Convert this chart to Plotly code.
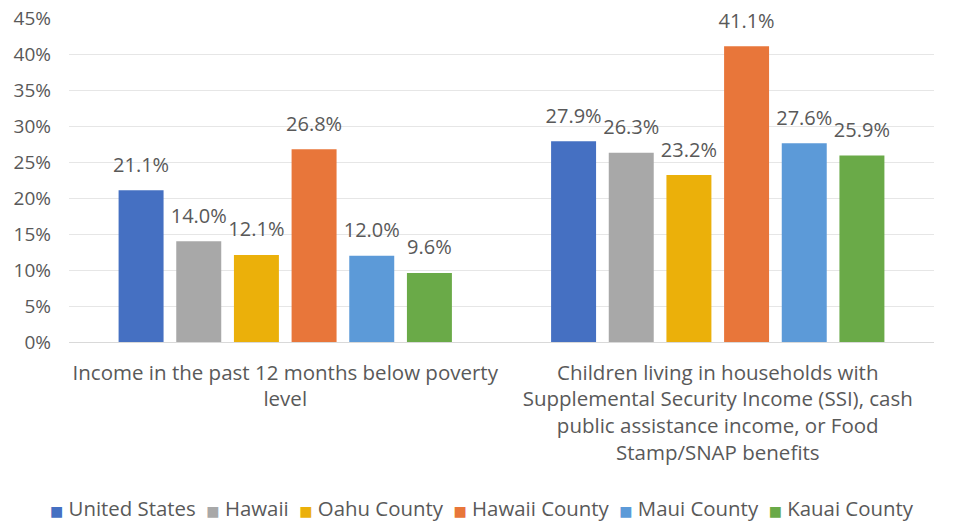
import plotly.graph_objects as go

categories = [
    "Income in the past 12 months below poverty<br>level",
    "Children living in households with<br>Supplemental Security Income (SSI), cash<br>public assistance income, or Food<br>Stamp/SNAP benefits",
]
series_names = ["United States", "Hawaii", "Oahu County", "Hawaii County", "Maui County", "Kauai County"]
united_states = [21.1, 27.9]
hawaii = [14.0, 26.3]
oahu_county = [12.1, 23.2]
hawaii_county = [26.8, 41.1]
maui_county = [12.0, 27.6]
kauai_county = [9.6, 25.9]
colors = ["#4570C2", "#A8A8A8", "#EBB00A", "#E8763A", "#5C9AD8", "#6AAA48"]
y_ticks = [0, 5, 10, 15, 20, 25, 30, 35, 40, 45]

values = [united_states, hawaii, oahu_county, hawaii_county, maui_county, kauai_county]
FONT = "Open Sans"
TXT = "#595959"

fig = go.Figure()
for name, vals, col in zip(series_names, values, colors):
    fig.add_trace(go.Bar(
        x=categories, y=vals, name=name, marker_color=col, marker_line_width=0,
        offsetgroup=name, alignmentgroup="a", showlegend=False,
    ))
for name, vals in zip(series_names, values):
    fig.add_trace(go.Scatter(
        x=categories, y=vals, mode="markers+text", text=[f"{v:.1f}%" for v in vals],
        textposition="top center", textfont=dict(family=FONT, size=20, color=TXT),
        marker=dict(size=20, opacity=0), offsetgroup=name, alignmentgroup="a",
        showlegend=False, cliponaxis=False, hoverinfo="skip",
    ))

# legend row built from the series names and colours
legend_text = "\u00a0\u00a0".join(
    f'<span style="color:{c};font-family:DejaVu Sans;font-size:14px">■</span>\u00a0{n}'
    for n, c in zip(series_names, colors)
)
fig.add_annotation(text=legend_text, xref="paper", yref="paper", x=0.4775, y=-0.512,
                   xanchor="center", yanchor="middle", showarrow=False,
                   font=dict(family=FONT, size=20.4, color=TXT))

fig.update_layout(
    width=959, height=523,
    margin=dict(l=69, r=25, t=18, b=181, autoexpand=False),
    paper_bgcolor="white", plot_bgcolor="white",
    barmode="group", bargap=0.2, bargroupgap=0.22,
    scattermode="group", scattergap=0.2,
    font=dict(family=FONT, size=20, color=TXT),
    showlegend=False,
    xaxis=dict(showgrid=False, showline=True, linecolor="#D9D9D9", linewidth=1, automargin=False,
               tickfont=dict(family=FONT, size=20.5, color=TXT), ticks="", ticklabelstandoff=12),
    yaxis=dict(range=[0, 45.02], tickvals=y_ticks, ticktext=[f"{t}%" for t in y_ticks], automargin=False,
               showgrid=True, gridcolor="#E6E6E6", gridwidth=1, zeroline=False,
               showline=False, tickfont=dict(family=FONT, size=19, color=TXT),
               ticklabelstandoff=17),
)

fig.write_html("out.html", config={"displayModeBar": False},
               post_script="document.body.style.margin='0px';")
